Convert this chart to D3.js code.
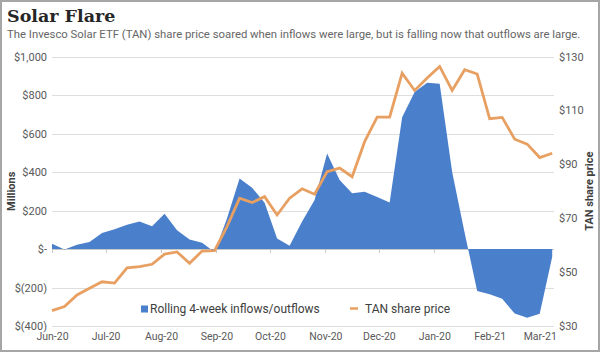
<!DOCTYPE html>
<html>
<head>
<meta charset="utf-8">
<script src="https://cdn.jsdelivr.net/npm/d3@7"></script>
<style>
  body { margin: 0; background: #fff; }
  svg { display: block; font-family: Roboto, sans-serif; }
</style>
</head>
<body>
<div class="svg-div"></div>
<script>
// weekly observations (Mondays)
const weeks = [
    '2020-06-01', '2020-06-08', '2020-06-15', '2020-06-22', '2020-06-29',
    '2020-07-06', '2020-07-13', '2020-07-20', '2020-07-27',
    '2020-08-03', '2020-08-10', '2020-08-17', '2020-08-24', '2020-08-31',
    '2020-09-07', '2020-09-14', '2020-09-21', '2020-09-28',
    '2020-10-05', '2020-10-12', '2020-10-19', '2020-10-26',
    '2020-11-02', '2020-11-09', '2020-11-16', '2020-11-23', '2020-11-30',
    '2020-12-07', '2020-12-14', '2020-12-21', '2020-12-28',
    '2021-01-04', '2021-01-11', '2021-01-18', '2021-01-25',
    '2021-02-01', '2021-02-08', '2021-02-15', '2021-02-22',
    '2021-03-01', '2021-03-08'
]

// rolling 4-week inflows/outflows, $ millions
const flows = [
    27, -3, 22, 36, 83, 102, 126, 143, 118, 183,
    98, 50, 32, -15, 160, 366, 318, 240, 55, 17,
    143, 255, 496, 359, 290, 298, 270, 241, 684, 816,
    863, 858, 400, 83, -218, -235, -259, -335, -357, -337,
    -40
]

// TAN share price, $
const prices = [
    35.7, 37.2, 41.5, 44.0, 46.4, 45.9, 51.6, 52.0, 52.9, 56.7,
    57.5, 53.3, 57.8, 58.0, 67.0, 77.4, 75.8, 78.0, 71.2, 77.4,
    80.9, 78.9, 87.3, 88.6, 85.4, 98.4, 107.5, 107.5, 123.8, 117.4,
    122.0, 126.3, 117.4, 125.1, 123.5, 106.9, 107.4, 99.3, 97.5, 92.5,
    94.1
]

const monthTicks = ['2020-06-01', '2020-07-01', '2020-08-01', '2020-09-01', '2020-10-01',
    '2020-11-01', '2020-12-01', '2021-01-01', '2021-02-01', '2021-03-01']
const monthLabels = ['Jun-20', 'Jul-20', 'Aug-20', 'Sep-20', 'Oct-20',
    'Nov-20', 'Dec-20', 'Jan-20', 'Feb-21', 'Mar-21']

const flowTicks = [-400, -200, 0, 200, 400, 600, 800, 1000]
const flowLabels = ['$(400)', '$(200)', '$-', '$200', '$400', '$600', '$800', '$1,000']
const priceTicks = [30, 50, 70, 90, 110, 130]
const priceLabels = ['$30', '$50', '$70', '$90', '$110', '$130']

const w = 600
const h = 352
const plotLeft = 52
const plotRight = 554
const plotTop = 56.5
const plotBottom = 326

const parse = d3.timeParse('%Y-%m-%d')
const dates = weeks.map(parse)
const tickDates = monthTicks.map(parse)

const xScale = d3.scaleTime()
    .domain([dates[0], parse('2021-03-09')])
    .range([plotLeft, plotRight])

const yScale = d3.scaleLinear()
    .domain([-400, 1000])
    .range([plotBottom, plotTop])

const yPrice = d3.scaleLinear()
    .domain([30, 130])
    .range([plotBottom, plotTop])

const svg = d3.select('.svg-div')
    .append('svg')
    .attr('width', w)
    .attr('height', h)

svg.append('rect')
    .attr('x', 1)
    .attr('y', 1)
    .attr('width', w - 2)
    .attr('height', h - 2)
    .attr('fill', '#fff')
    .attr('stroke', '#a6a6a6')
    .attr('stroke-width', 2)

svg.append('text')
    .attr('x', 7)
    .attr('y', 22)
    .attr('font-family', '"DejaVu Serif", serif')
    .attr('font-weight', 'bold')
    .attr('font-size', 17.5)
    .attr('fill', '#262626')
    .text('Solar Flare')

const subtitle = svg.append('text')
    .attr('x', 7)
    .attr('y', 37.5)
    .attr('font-size', 12)
    .attr('fill', '#666')
    .text('The Invesco Solar ETF (TAN) share price soared when inflows were large, but is falling now that outflows are large.')

// shrink the subtitle so it spans the same width as in the original
const subW = subtitle.node().getComputedTextLength()
if (subW > 574) subtitle.attr('font-size', 12 * 574 / subW)

// gridlines
svg.append('g')
    .selectAll('line')
    .data(flowTicks)
    .enter()
    .append('line')
    .attr('x1', plotLeft)
    .attr('x2', plotRight)
    .attr('y1', d => Math.round(yScale(d)) + 0.5)
    .attr('y2', d => Math.round(yScale(d)) + 0.5)
    .attr('stroke', d => d === 0 ? '#c8c8c8' : '#dedede')
    .attr('stroke-width', 1.2)

// month ticks on the zero line
svg.append('g')
    .selectAll('line')
    .data(tickDates)
    .enter()
    .append('line')
    .attr('x1', d => Math.round(xScale(d)) + 0.5)
    .attr('x2', d => Math.round(xScale(d)) + 0.5)
    .attr('y1', Math.round(yScale(0)))
    .attr('y2', Math.round(yScale(0)) + 4)
    .attr('stroke', '#c8c8c8')

const area = d3.area()
    .x((d, i) => xScale(dates[i]))
    .y0(yScale(0))
    .y1(d => yScale(d))

svg.append('path')
    .datum(flows)
    .attr('d', area)
    .attr('fill', '#4a7fcb')

const line = d3.line()
    .x((d, i) => xScale(dates[i]))
    .y(d => yPrice(d))

svg.append('path')
    .datum(prices)
    .attr('d', line)
    .attr('fill', 'none')
    .attr('stroke', '#e8a062')
    .attr('stroke-width', 2.8)
    .attr('stroke-linejoin', 'miter')

const yAxis = d3.axisLeft(yScale)
    .tickValues(flowTicks)
    .tickFormat((d, i) => flowLabels[i])
    .tickSize(0)
    .tickPadding(5)

svg.append('g')
    .attr('transform', 'translate(' + plotLeft + ',0)')
    .call(yAxis)
    .call(g => g.select('.domain').remove())
    .selectAll('text')
    .attr('font-family', 'Roboto, sans-serif')
    .attr('font-size', 11)
    .attr('fill', '#595959')

const y2Axis = d3.axisRight(yPrice)
    .tickValues(priceTicks)
    .tickFormat((d, i) => priceLabels[i])
    .tickSize(0)
    .tickPadding(5)

svg.append('g')
    .attr('transform', 'translate(' + plotRight + ',0)')
    .call(y2Axis)
    .call(g => g.select('.domain').remove())
    .selectAll('text')
    .attr('font-family', 'Roboto, sans-serif')
    .attr('font-size', 11)
    .attr('fill', '#595959')

const xAxis = d3.axisBottom(xScale)
    .tickValues(tickDates)
    .tickFormat((d, i) => monthLabels[i])
    .tickSize(0)
    .tickPadding(7)

svg.append('g')
    .attr('transform', 'translate(0,' + plotBottom + ')')
    .call(xAxis)
    .call(g => g.select('.domain').remove())
    .selectAll('text')
    .attr('font-family', 'Roboto, sans-serif')
    .attr('font-size', 10.5)
    .attr('fill', '#595959')

svg.append('text')
    .attr('transform', 'translate(15,' + ((plotTop + plotBottom) / 2) + ') rotate(-90)')
    .attr('text-anchor', 'middle')
    .attr('font-size', 11)
    .attr('font-weight', 'bold')
    .attr('fill', '#404040')
    .text('Millions')

svg.append('text')
    .attr('transform', 'translate(593,' + ((plotTop + plotBottom) / 2) + ') rotate(-90)')
    .attr('text-anchor', 'middle')
    .attr('font-size', 11)
    .attr('font-weight', 'bold')
    .attr('fill', '#404040')
    .text('TAN share price')

// legend
const legend = svg.append('g')

legend.append('rect')
    .attr('x', 141)
    .attr('y', 305.5)
    .attr('width', 7)
    .attr('height', 7)
    .attr('fill', '#4a7fcb')

legend.append('text')
    .attr('x', 150)
    .attr('y', 313)
    .attr('font-size', 12)
    .attr('fill', '#404040')
    .text('Rolling 4-week inflows/outflows')

legend.append('line')
    .attr('x1', 350)
    .attr('x2', 358)
    .attr('y1', 308.5)
    .attr('y2', 308.5)
    .attr('stroke', '#e8a062')
    .attr('stroke-width', 2.5)

legend.append('text')
    .attr('x', 365)
    .attr('y', 313)
    .attr('font-size', 12)
    .attr('fill', '#404040')
    .text('TAN share price')
</script>
</body>
</html>
